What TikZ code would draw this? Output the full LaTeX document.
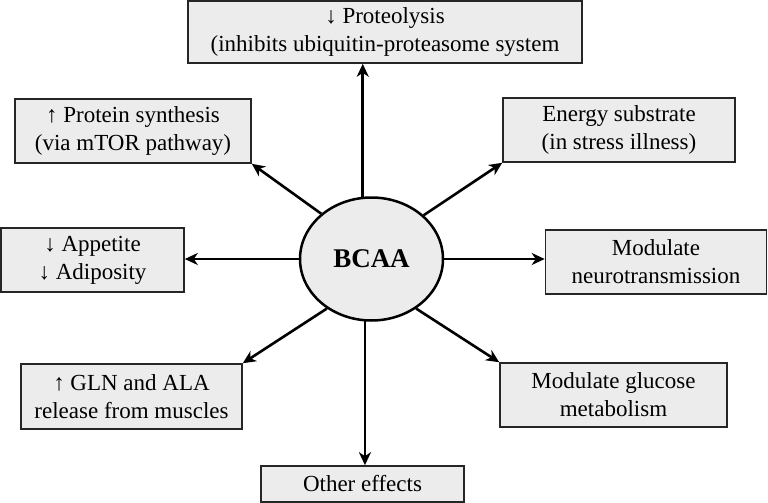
\documentclass[tikz,border=0pt]{standalone}
\usepackage{fontspec}
\setmainfont{Liberation Serif}
\usetikzlibrary{arrows.meta,shapes.geometric}

\begin{document}
\begin{tikzpicture}[x=1pt, y=-1pt,
		effect/.style={draw=black!85, line width=1.6pt, fill=gray!15, align=center, inner sep=0pt,
			font=\fontsize{23}{28}\selectfont},
		hub/.style={ellipse, draw=black, line width=2.5pt, fill=gray!15, inner sep=0pt,
			minimum width=143pt, minimum height=123pt, font=\fontsize{27}{30}\selectfont\bfseries},
		link/.style={line width=2.6pt, -{Stealth[length=13pt, width=12pt, inset=4pt]}}]
		%%%%% START %%%%%
		
		\useasboundingbox (0, 0) rectangle (768, 503);
		
		\node[hub] (bcaa) at (371.5, 259) {BCAA};
		
		\node[effect, minimum width=394pt, minimum height=62pt] (proteolysis) at (385, 32)
			{↓ Proteolysis\\(inhibits ubiquitin-proteasome system};
		\node[effect, minimum width=236pt, minimum height=64pt] (synthesis) at (133, 131)
			{↑ Protein synthesis\\(via mTOR pathway)};
		\node[effect, minimum width=232pt, minimum height=64pt] (energy) at (619, 130)
			{Energy substrate\\(in stress illness)};
		\node[effect, minimum width=183pt, minimum height=64pt] (appetite) at (92.5, 260)
			{↓ Appetite\\↓ Adiposity};
		\node[effect, minimum width=221pt, minimum height=64pt] (neuro) at (656, 262)
			{Modulate\\neurotransmission};
		\node[effect, minimum width=221pt, minimum height=65pt] (release) at (131.5, 396.5)
			{↑ GLN and ALA\\release from muscles};
		\node[effect, minimum width=227pt, minimum height=64pt] (glucose) at (613.5, 395)
			{Modulate glucose\\metabolism};
		\node[effect, minimum width=203pt, minimum height=36pt] (other) at (362.5, 484)
			{Other effects};
		
		\draw[link] (bcaa.98) -- (bcaa.98 |- proteolysis.south);
		\draw[link] (bcaa.138) -- (synthesis.south east);
		\draw[link] (bcaa.40) -- (energy.south west);
		\draw[link] (bcaa.west) -- (bcaa.west -| appetite.east);
		\draw[link] (bcaa.east) -- (bcaa.east -| neuro.west);
		\draw[link] (bcaa.228) -- (release.north east);
		\draw[link] (bcaa.312) -- (glucose.north west);
		\draw[link] (bcaa.264) -- (bcaa.264 |- other.north);
		
		%%%%% END %%%%%
	\end{tikzpicture}
\end{document}
